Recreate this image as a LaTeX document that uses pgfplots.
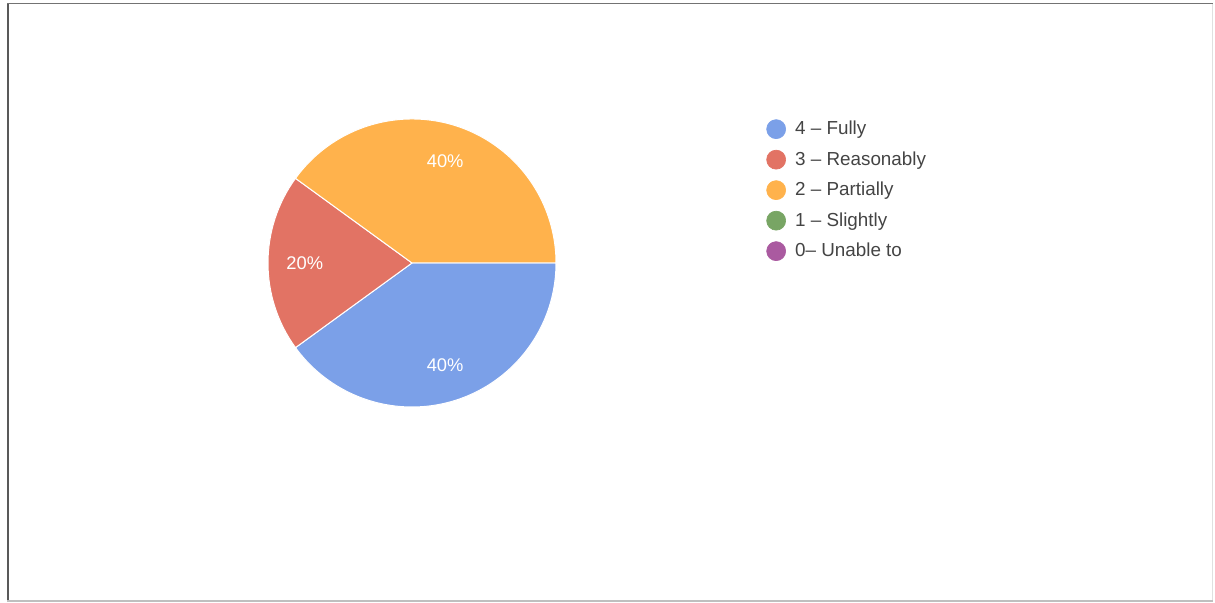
\documentclass[border=0pt]{standalone}
\usepackage{fontspec}
\setmainfont{Liberation Sans}
\usepackage{pgfplots}
\pgfplotsset{compat=1.18}

\definecolor{cFully}{HTML}{7BA0E8}
\definecolor{cReason}{HTML}{E27364}
\definecolor{cPartial}{HTML}{FFB24C}
\definecolor{cSlight}{HTML}{78A564}
\definecolor{cUnable}{HTML}{AA5AA0}
\definecolor{legtext}{HTML}{444444}

% 1 px of the reference = 0.6pt
\newcommand\R{86.4pt}
\pgfdeclareplotmark{nothing}{}

\pgfplotsset{
  pie slice/.style={
    scatter, only marks, mark=nothing,
    visualization depends on={\thisrow{from} \as \from},
    visualization depends on={\thisrow{pct} \as \pct},
    scatter/@pre marker code/.code={
      \pgfmathsetmacro\a{-3.6*\from}
      \pgfmathsetmacro\b{-3.6*(\from+\pct)}
      \pgfmathsetmacro\m{(\a+\b)/2}
      \pgfmathtruncatemacro\p{\pct}
      \ifnum\p>0
        \fill[#1, draw=white, line width=0.6pt] (0,0) -- (\a:\R)
          arc[start angle=\a, end angle=\b, radius=\R] -- cycle;
        \node[text=white, font=\fontsize{11}{13}\selectfont] at (\m:0.745*\R) {\p\%};
      \fi
    },
    scatter/@post marker code/.code={},
    legend image code/.code={\fill[#1] (0pt,0pt) circle (5.7pt);},
  },
}

\begin{document}
\begin{tikzpicture}
\begin{axis}[
    scale only axis,
    width=729pt, height=361.2pt,
    xmin=0, xmax=1215, ymin=0, ymax=602,
    hide axis, clip=false,
    legend style={at={(axis cs:766,483)}, anchor=north west,
        draw=none, fill=none, inner sep=0pt,
        font=\fontsize{11.3}{13}\selectfont, text=legtext,
        row sep=6.5pt,
        nodes={inner sep=0pt, text depth=0.3ex, text height=1.6ex}},
    legend cell align=left,
    /tikz/every odd column/.style={column sep=5.5pt},
]
\addplot[pie slice=cFully] table {
x y from pct
412 339 0 40
};
\addlegendentry{4 – Fully}
\addplot[pie slice=cReason] table {
x y from pct
412 339 40 20
};
\addlegendentry{3 – Reasonably}
\addplot[pie slice=cPartial] table {
x y from pct
412 339 60 40
};
\addlegendentry{2 – Partially}
\addplot[pie slice=cSlight] table {
x y from pct
412 339 100 0
};
\addlegendentry{1 – Slightly}
\addplot[pie slice=cUnable] table {
x y from pct
412 339 100 0
};
\addlegendentry{0– Unable to}

% full page extent
\path (axis cs:0,0) rectangle (axis cs:1215,602);
% scanned page frame
\draw[line width=1.2pt, color=black!65] (axis cs:7.5,0) -- (axis cs:7.5,598.5);
\draw[line width=0.9pt, color=black!55] (axis cs:7,598.5) -- (axis cs:1213,598.5);
\draw[line width=0.6pt, color=black!12] (axis cs:1212.5,598) -- (axis cs:1212.5,0);
\draw[line width=1pt, color=black!25] (axis cs:7,1) -- (axis cs:1213,1);
\end{axis}
\end{tikzpicture}
\end{document}
